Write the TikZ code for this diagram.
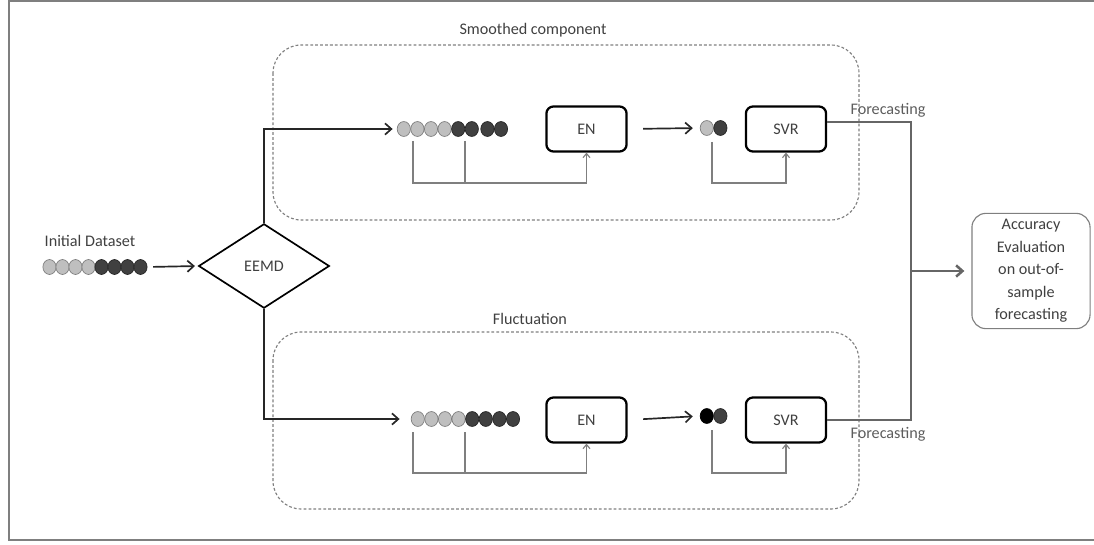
\documentclass[tikz,border=0pt]{standalone}
\usepackage{fontspec}
\setmainfont{Carlito}
\usepackage{tikz}
\usetikzlibrary{arrows,arrows.meta,positioning,calc,shapes.geometric}
\definecolor{txtGray}{HTML}{404040}
\definecolor{lineGray}{HTML}{7F7F7F}
\definecolor{dotLight}{HTML}{BFBFBF}
\definecolor{dotDark}{HTML}{404040}
\tikzstyle{lightDot}=[draw=lineGray, fill=dotLight, ellipse, minimum width=9.4pt, minimum height=10.6pt, inner sep=0pt, line width=0.5pt]
\tikzstyle{darkDot}=[draw=black!85, fill=dotDark, ellipse, minimum width=9.4pt, minimum height=10.6pt, inner sep=0pt, line width=0.5pt]
\tikzstyle{blackDot}=[draw=black, fill=black, ellipse, minimum width=9.4pt, minimum height=10.6pt, inner sep=0pt, line width=0.5pt]
\tikzstyle{modelBox}=[draw=black, line width=1.6pt, rounded corners=5pt, minimum width=57pt, minimum height=32pt, text=txtGray]
\tikzstyle{decompNode}=[draw=black, line width=1.2pt, diamond, aspect=1.55, minimum width=93pt, minimum height=60pt, inner sep=0pt, text=txtGray]
\tikzstyle{evalBox}=[draw=lineGray, line width=0.8pt, rounded corners=10pt, minimum width=84pt, minimum height=82pt, align=center, text=txtGray, font=\fontsize{11.5}{16}\selectfont]
\tikzstyle{groupBox}=[draw=lineGray, dash pattern=on 2pt off 1.5pt, line width=0.8pt, rounded corners=20pt]
\tikzstyle{feed}=[draw=lineGray, line width=0.8pt, -{Straight Barb[length=3pt,width=5pt]}]
\tikzstyle{flow}=[draw=black!85, line width=1.2pt, -{Straight Barb[length=4.5pt,width=8pt]}]
\tikzstyle{outLine}=[draw=black!60, line width=1pt]

\begin{document}
\begin{tikzpicture}[x=0.025cm, y=-0.025cm, font=\fontsize{11.5}{14}\selectfont]
    \useasboundingbox (0,0) rectangle (1094,545);
    % frame (right side cut off)
    \draw[lineGray, line width=1.2pt] (1094,1) -- (9,1) -- (9,540) -- (1094,540);

    % the two groups
    \draw[groupBox] (273,45) rectangle (859,220);
    \node[text=txtGray] (smoothLbl) at (533,30) {Smoothed component};
    \draw[groupBox] (273,332) rectangle (859,509);
    \node[text=txtGray] (flucLbl) at (530,319) {Fluctuation};

    % input series
    \node[text=txtGray] (initLbl) at (90,241) {Initial Dataset};
    \foreach \i in {1,...,4}
      \node[lightDot] (in\i) at (36.5+13*\i,267) {};
    \foreach \i in {5,...,8}
      \node[darkDot] (in\i) at (36.5+13*\i,267) {};
    \node[decompNode] (eemd) at (264,266) {EEMD};
    \draw[flow, shorten <=4pt, shorten >=2pt] (in8.east) -- (eemd.west);

    % smoothed component
    \foreach \i in {1,...,4}
      \node[lightDot] (up\i) at (390.2+13.6*\i,129) {};
    \foreach \i in {5,6}
      \node[darkDot] (up\i) at (390.2+13.6*\i,129) {};
    \foreach \i in {7,8}
      \node[darkDot] (up\i) at (392.2+13.6*\i,129) {};
    \draw[flow] (eemd.north) |- ([xshift=-3pt]up1.west);
    \node[modelBox] (enU) at (586.5,129) {EN};
    \node[lightDot] (pU1) at (706.8,128) {};
    \node[darkDot] (pU2) at (720.4,128) {};
    \node[modelBox] (svrU) at (786,129) {SVR};
    \draw[flow, shorten <=11pt, shorten >=5pt] (enU.east) -- (pU1.west);
    \coordinate (fU1) at (413,141);
    \coordinate (fU2) at (465,141);
    \coordinate (fUbase) at (413,183);
    \draw[lineGray, line width=0.8pt] (fU2) -- (fU2 |- fUbase);
    \draw[feed] (fU1) -- (fUbase) -| (enU.south);
    \coordinate (gU) at (712,142);
    \draw[feed] (gU) -- ++(0,41) -| (svrU.south);

    % fluctuation
    \foreach \i in {1,...,4}
      \node[lightDot] (lo\i) at (404.2+13.6*\i,419) {};
    \foreach \i in {5,...,8}
      \node[darkDot] (lo\i) at (404.2+13.6*\i,419) {};
    \draw[flow] (eemd.south) |- ([xshift=-8pt]lo1.west);
    \node[modelBox] (enL) at (586.5,420) {EN};
    \node[blackDot] (pL1) at (706.8,416) {};
    \node[darkDot] (pL2) at (720.4,416) {};
    \node[modelBox] (svrL) at (786,420) {SVR};
    \draw[flow, shorten <=11pt, shorten >=5pt] (enL.east) -- (pL1.west);
    \coordinate (fL1) at (413,432);
    \coordinate (fL2) at (465,432);
    \coordinate (fLbase) at (413,473);
    \draw[lineGray, line width=0.8pt] (fL2) -- (fL2 |- fLbase);
    \draw[feed] (fL1) -- (fLbase) -| (enL.south);
    \coordinate (gL) at (712,430);
    \draw[feed] (gL) -- ++(0,43) -| (svrL.south);

    % output
    \node[text=txtGray!85] (fcU) at (888,110) {Forecasting};
    \node[text=txtGray!85] (fcL) at (888,434) {Forecasting};
    \node[evalBox] (acc) at (1031,271) {Accuracy\\Evaluation\\on out-of-\\sample\\forecasting};
    \coordinate (join) at (911,271);
    \draw[outLine] ([yshift=5pt]svrU.east) -| (join);
    \draw[outLine] (svrL.east) -| (join);
    \draw[outLine, line width=1.8pt, -{Straight Barb[length=4.5pt,width=8pt]}, shorten >=5pt] (join) -- (acc.west);
\end{tikzpicture}
\end{document}
